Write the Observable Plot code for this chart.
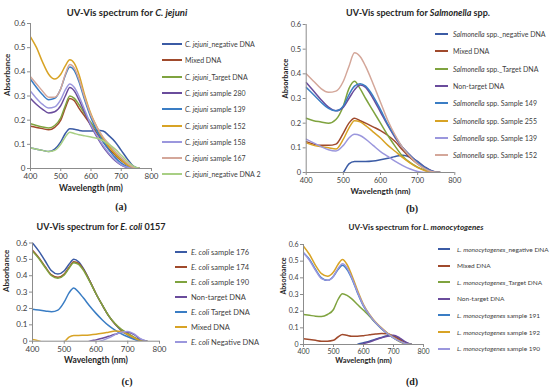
<!DOCTYPE html>
<html><head><meta charset="utf-8">
<script src="https://cdn.jsdelivr.net/npm/d3@7"></script>
<script src="https://cdn.jsdelivr.net/npm/@observablehq/plot@0.6"></script>
<style>
body{margin:0;background:#fff;}
#root{position:relative;width:550px;height:390px;font-family:Lato,"Open Sans",sans-serif;color:#404040;overflow:hidden;background:#fff}
.abs{position:absolute;white-space:nowrap}
.title{font-weight:bold;text-align:center;color:#262626}
.cap{font-family:"Liberation Serif",serif;font-size:10px;color:#222;text-align:center;width:30px}
.leg{display:flex;align-items:center;color:#404040}
.leg span{white-space:pre}
</style></head><body><div id="root"></div>
<script>
// ---------- data ----------
const WL = [400,420,440,460,480,500,515,530,545,560,580,600,620,640,660,680,700,720,740,760];
const X_TICKS = [400,500,600,700,800];
const Y_TICKS = [0,0.1,0.2,0.3,0.4,0.5,0.6];

// (a) C. jejuni
const aNames = ["C. jejuni_negative DNA","Mixed DNA","C. jejuni_Target DNA","C. jejuni sample 280","C. jejuni sample 139","C. jejuni sample 152","C. jejuni sample 158","C. jejuni sample 167","C. jejuni_negative DNA 2"];
const aNeg    = [0.085,0.08,0.075,0.07,0.08,0.11,0.145,0.165,0.162,0.158,0.155,0.155,0.158,0.155,0.135,0.11,0.075,0.04,0.01,0];
const aMixed  = [0.175,0.17,0.165,0.16,0.17,0.2,0.25,0.29,0.28,0.25,0.215,0.18,0.145,0.11,0.08,0.055,0.032,0.014,0.002,0];
const aTarget = [0.185,0.178,0.172,0.168,0.178,0.21,0.26,0.30,0.29,0.265,0.225,0.19,0.155,0.12,0.09,0.062,0.038,0.018,0.004,0];
const a280    = [0.29,0.265,0.245,0.23,0.235,0.26,0.3,0.335,0.32,0.285,0.23,0.175,0.13,0.09,0.058,0.032,0.014,0.004,0,0];
const a139    = [0.37,0.335,0.305,0.285,0.29,0.33,0.385,0.42,0.405,0.36,0.28,0.21,0.155,0.11,0.075,0.045,0.022,0.008,0,0];
const a152    = [0.545,0.5,0.44,0.39,0.37,0.39,0.425,0.45,0.435,0.39,0.3,0.225,0.17,0.125,0.09,0.06,0.035,0.015,0.003,0];
const a158    = [0.32,0.29,0.265,0.25,0.255,0.285,0.325,0.35,0.335,0.3,0.24,0.18,0.135,0.095,0.062,0.035,0.015,0.005,0,0];
const a167    = [0.38,0.35,0.32,0.295,0.295,0.33,0.39,0.43,0.415,0.37,0.29,0.22,0.17,0.13,0.1,0.07,0.045,0.022,0.005,0];
const aNeg2   = [0.085,0.08,0.075,0.07,0.075,0.1,0.13,0.15,0.145,0.14,0.135,0.13,0.125,0.115,0.1,0.08,0.055,0.03,0.01,0];

// (b) Salmonella spp.
const bNames = ["Salmonella spp._negative DNA","Mixed DNA","Salmonella spp._Target DNA","Non-target DNA","Salmonella spp. Sample 149","Salmonella spp. Sample 255","Salmonella spp. Sample 139","Salmonella spp. Sample 152"];
const bNeg       = [-0.15,-0.12,-0.1,-0.08,-0.04,0,0.035,0.045,0.045,0.045,0.047,0.052,0.058,0.065,0.07,0.062,0.045,0.022,0.005,0];
const bMixed     = [0.125,0.115,0.11,0.11,0.115,0.16,0.2,0.22,0.21,0.2,0.185,0.17,0.15,0.125,0.09,0.06,0.035,0.015,0.002,0];
const bTarget    = [0.22,0.21,0.205,0.2,0.215,0.27,0.34,0.37,0.34,0.3,0.25,0.2,0.15,0.105,0.065,0.04,0.022,0.01,0,0];
const bNonTarget = [0.365,0.33,0.295,0.265,0.25,0.265,0.3,0.335,0.355,0.345,0.3,0.245,0.19,0.14,0.1,0.07,0.042,0.02,0.005,0];
const b149       = [0.345,0.315,0.285,0.26,0.25,0.27,0.315,0.35,0.36,0.35,0.31,0.255,0.195,0.145,0.1,0.068,0.04,0.018,0.004,0];
const b255       = [0.12,0.11,0.105,0.1,0.095,0.135,0.18,0.21,0.205,0.19,0.165,0.14,0.11,0.085,0.06,0.038,0.02,0.007,0,0];
const b139       = [0.135,0.12,0.105,0.092,0.087,0.11,0.14,0.155,0.15,0.135,0.11,0.085,0.065,0.045,0.028,0.014,0.004,0,0,0];
const b152       = [0.4,0.37,0.34,0.325,0.33,0.37,0.43,0.485,0.47,0.43,0.36,0.285,0.21,0.15,0.1,0.065,0.035,0.015,0.003,0];

// (c) E. coli 0157
const cNames = ["E. coli sample 176","E. coli sample 174","E. coli sample 190","Non-target DNA","E. coli Target DNA","Mixed DNA","E. coli Negative DNA"];
const c176       = [0.6,0.55,0.49,0.43,0.41,0.43,0.47,0.5,0.485,0.445,0.37,0.29,0.22,0.155,0.105,0.065,0.038,0.015,0.002,0];
const c174       = [0.555,0.51,0.455,0.405,0.39,0.41,0.45,0.485,0.475,0.44,0.37,0.29,0.22,0.155,0.105,0.07,0.045,0.022,0.005,0];
const c190       = [0.55,0.505,0.45,0.4,0.385,0.405,0.445,0.48,0.47,0.435,0.365,0.29,0.22,0.155,0.108,0.072,0.047,0.024,0.006,0];
const cNonTarget = [-0.2,-0.18,-0.16,-0.14,-0.12,-0.1,-0.08,-0.06,-0.04,-0.02,0,0.008,0.018,0.03,0.042,0.053,0.055,0.04,0.012,0];
const cTarget    = [0.195,0.19,0.185,0.18,0.19,0.24,0.295,0.325,0.3,0.265,0.215,0.17,0.13,0.095,0.068,0.045,0.027,0.012,0.002,0];
const cMixed     = [0.01,0.002,-0.015,-0.03,-0.03,-0.005,0.025,0.035,0.035,0.036,0.038,0.042,0.048,0.055,0.062,0.06,0.04,0.02,0.003,0];
const cNeg       = [-0.25,-0.23,-0.21,-0.19,-0.17,-0.15,-0.13,-0.11,-0.09,-0.07,-0.04,-0.01,0.005,0.02,0.04,0.055,0.06,0.045,0.015,0];

// (d) L. monocytogenes
const dNames = ["L. monocytogenes_negative DNA","Mixed DNA","L. monocytogenes_Target DNA","Non-target DNA","L. monocytogenes sample 191","L. monocytogenes sample 192","L. monocytogenes sample 190"];
const dNeg       = [-0.2,-0.18,-0.16,-0.14,-0.12,-0.1,-0.08,-0.06,-0.04,-0.02,0,0.01,0.02,0.032,0.042,0.052,0.052,0.035,0.012,0];
const dMixed     = [0.035,0.03,0.025,0.02,0.02,0.025,0.045,0.06,0.055,0.05,0.05,0.053,0.058,0.063,0.066,0.065,0.05,0.03,0.01,0];
const dTarget    = [0.18,0.175,0.17,0.168,0.18,0.21,0.27,0.305,0.295,0.275,0.24,0.205,0.17,0.13,0.095,0.065,0.04,0.018,0.004,0];
const dNonTarget = [-0.22,-0.2,-0.18,-0.16,-0.14,-0.12,-0.1,-0.08,-0.06,-0.03,-0.01,0.005,0.015,0.028,0.04,0.05,0.055,0.04,0.015,0];
const d191       = [0.55,0.51,0.45,0.4,0.385,0.41,0.45,0.475,0.45,0.4,0.31,0.23,0.175,0.13,0.095,0.065,0.04,0.02,0.005,0];
const d192       = [0.59,0.54,0.475,0.425,0.41,0.435,0.48,0.51,0.48,0.42,0.325,0.24,0.18,0.135,0.1,0.068,0.042,0.02,0.005,0];
const d190       = [0.55,0.505,0.445,0.395,0.385,0.41,0.455,0.485,0.46,0.405,0.315,0.235,0.178,0.132,0.097,0.066,0.04,0.02,0.005,0];

const PAL = ["#3B5BA5","#A04A2C","#7FA33F","#6A4C9C","#3A7DC4","#D8A325","#9B97DD","#D4A79A","#A8CF84"];

// ---------- drawing ----------
const root = document.getElementById("root");
function add(html, cls, style) {
  const d = document.createElement("div");
  d.className = "abs " + (cls || "");
  Object.assign(d.style, style);
  d.innerHTML = html;
  root.appendChild(d);
  return d;
}

function panel(cfg) {
  const rows = cfg.series.flatMap((vals, k) => WL.map((w, i) => ({w, v: vals[i], s: cfg.names[k]})));
  const p = Plot.plot({
    width: cfg.w, height: cfg.h,
    marginLeft: cfg.ml, marginRight: cfg.mr, marginTop: cfg.mt, marginBottom: cfg.mb,
    x: {domain: [400, 800]},
    y: {domain: [0, 0.6]},
    color: {domain: cfg.names, range: PAL.slice(0, cfg.names.length)},
    style: {fontFamily: "Lato, 'Open Sans', sans-serif", fontSize: cfg.fs + "px", color: "#404040", background: "transparent", overflow: "visible"},
    marks: [
      Plot.line(rows, {x: "w", y: "v", stroke: "s", z: "s", curve: "monotone-x", strokeWidth: 1.5, clip: true}),
      Plot.ruleX([400], {stroke: "#8c8c8c"}),
      Plot.ruleY([0], {stroke: "#8c8c8c"}),
      Plot.axisX({ticks: X_TICKS, tickSize: 3, tickPadding: 2, label: null, stroke: "#8c8c8c", fill: "#404040"}),
      Plot.axisY({ticks: Y_TICKS, tickSize: 3, tickPadding: 2, label: null, stroke: "#8c8c8c", fill: "#404040",
                  tickFormat: d => d === 0 ? "0" : d.toFixed(1)}),
      Plot.text(["Absorbance"], {frameAnchor: "left", rotate: -90, dx: cfg.ylx, fontWeight: "bold", fill: "#262626"}),
      Plot.text(["Wavelength (nm)"], {frameAnchor: "bottom", dy: cfg.xly, fontWeight: "bold", fill: "#262626", fontSize: cfg.fs + 0.5})
    ]
  });
  p.style.position = "absolute";
  p.style.left = cfg.left + "px";
  p.style.top = cfg.top + "px";
  root.appendChild(p);

  // title
  add(cfg.title, "title", {left: (cfg.tx - 110) + "px", width: "220px", top: (cfg.ty - 7) + "px", fontSize: cfg.tfs + "px", lineHeight: "14px"});
  // legend
  cfg.names.forEach((n, k) => {
    const label = n.replace(cfg.ital, "<i>$1</i>");
    add(`<svg width="${cfg.sw}" height="4" style="margin-right:${cfg.gap}px;flex:none"><line x1="0" x2="${cfg.sw}" y1="2" y2="2" stroke="${PAL[k]}" stroke-width="2"/></svg><span>${label}</span>`,
        "leg", {left: cfg.lx + "px", top: (cfg.ly + k * cfg.ls - 6) + "px", height: "12px", fontSize: cfg.lfs + "px"});
  });
  // caption
  add(cfg.cap, "cap", {left: (cfg.cx - 15) + "px", top: (cfg.cy - 7) + "px", fontWeight: "bold"});
}

panel({title: "UV-Vis spectrum for <i>C. jejuni</i>", tx: 127, ty: 13, tfs: 9.5,
  names: aNames, series: [aNeg, aMixed, aTarget, a280, a139, a152, a158, a167, aNeg2], ital: /(C\. jejuni)/,
  left: 0, top: 0, w: 160, h: 200, ml: 30, mr: 9, mt: 23, mb: 32, fs: 8, ylx: -23, xly: 22,
  lx: 162, ly: 44, ls: 16.3, sw: 20, gap: 3, lfs: 7, cap: "(a)", cx: 121, cy: 208});

panel({title: "UV-Vis spectrum for <i>Salmonella</i> spp.", tx: 418, ty: 13, tfs: 9,
  names: bNames, series: [bNeg, bMixed, bTarget, bNonTarget, b149, b255, b139, b152], ital: /(Salmonella)/,
  left: 275, top: 0, w: 185, h: 200, ml: 30.7, mr: 5.7, mt: 24, mb: 28, fs: 7.5, ylx: -21, xly: 21,
  lx: 435, ly: 34, ls: 17.3, sw: 13, gap: 5, lfs: 7, cap: "(b)", cx: 412, cy: 210});

panel({title: "UV-Vis spectrum for <i>E. coli</i> 0157", tx: 101, ty: 227, tfs: 9,
  names: cNames, series: [c176, c174, c190, cNonTarget, cTarget, cMixed, cNeg], ital: /(E\. coli)/,
  left: 0, top: 230, w: 170, h: 145, ml: 32, mr: 11, mt: 12.5, mb: 34.3, fs: 8, ylx: -26, xly: 22,
  lx: 175, ly: 252, ls: 15, sw: 12, gap: 4, lfs: 7.5, cap: "(c)", cx: 127, cy: 383});

panel({title: "UV-Vis spectrum for <i>L. monocytogenes</i>", tx: 416, ty: 227, tfs: 8,
  names: dNames, series: [dNeg, dMixed, dTarget, dNonTarget, d191, d192, d190], ital: /(L\. monocytogenes)/,
  left: 275, top: 230, w: 160, h: 145, ml: 28, mr: 12, mt: 14, mb: 31, fs: 7, ylx: -20, xly: 18,
  lx: 438, ly: 249, ls: 16.6, sw: 12, gap: 7, lfs: 6.5, cap: "(d)", cx: 412, cy: 383});
</script></body></html>
